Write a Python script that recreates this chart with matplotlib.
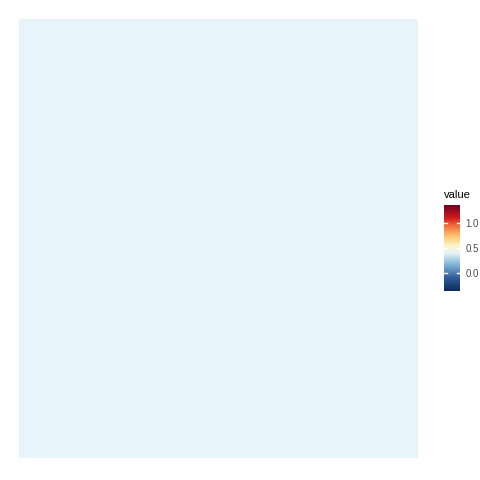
import numpy as np
import matplotlib.pyplot as plt
from matplotlib.colors import LinearSegmentedColormap, Normalize

plt.rcParams["font.family"] = ["Liberation Sans", "DejaVu Sans"]

# single tile heatmap
x_cats = ["1"]
y_cats = ["1"]
values = [[0.4]]

legend_ticks = [0.0, 0.5, 1.0]
legend_labels = ["0.0", "0.5", "1.0"]
vmin, vmax = -0.36, 1.37

# gradient stops (value, colour)
stop_vals = [-0.36, -0.1, 0.2, 0.4, 0.55, 0.75, 0.95, 1.1, 1.37]
stop_cols = ["#0b2c5a", "#2f5f9a", "#8fbfdc", "#e7f5fa", "#fff6c4",
             "#fdbd68", "#f2683a", "#cf1b1d", "#6b0021"]
pos = [(v - vmin) / (vmax - vmin) for v in stop_vals]
cmap = LinearSegmentedColormap.from_list("grad", list(zip(pos, stop_cols)))
norm = Normalize(vmin=vmin, vmax=vmax)

fig = plt.figure(figsize=(4.8, 4.8), dpi=100)
W, H = 480, 480

# main panel
ax = fig.add_axes([19 / W, 1 - 458 / H, (418 - 19) / W, (458 - 19) / H])
ax.pcolormesh(np.arange(len(x_cats) + 1), np.arange(len(y_cats) + 1),
              np.array(values), cmap=cmap, norm=norm)
ax.set_xlim(0, len(x_cats))
ax.set_ylim(0, len(y_cats))
ax.axis("off")

# colour bar
cax = fig.add_axes([444 / W, 1 - 291 / H, (460 - 444) / W, (291 - 205) / H])
grad = np.linspace(vmin, vmax, 300).reshape(-1, 1)
cax.imshow(grad, aspect="auto", origin="lower", cmap=cmap, norm=norm,
           extent=[0, 1, vmin, vmax])
cax.set_xlim(0, 1)
cax.set_ylim(vmin, vmax)
for t in legend_ticks:
    cax.plot([0, 0.2], [t, t], color="white", lw=1)
    cax.plot([0.8, 1], [t, t], color="white", lw=1)
cax.set_xticks([])
cax.set_yticks(legend_ticks)
cax.set_yticklabels(legend_labels, fontsize=7, color="#4d4d4d")
cax.yaxis.tick_right()
cax.tick_params(axis="y", length=0, pad=4)
for s in cax.spines.values():
    s.set_visible(False)
fig.text(444 / W, 1 - 195 / H, "value", fontsize=8, ha="left", va="center")

fig.savefig("out.png", dpi=100)
